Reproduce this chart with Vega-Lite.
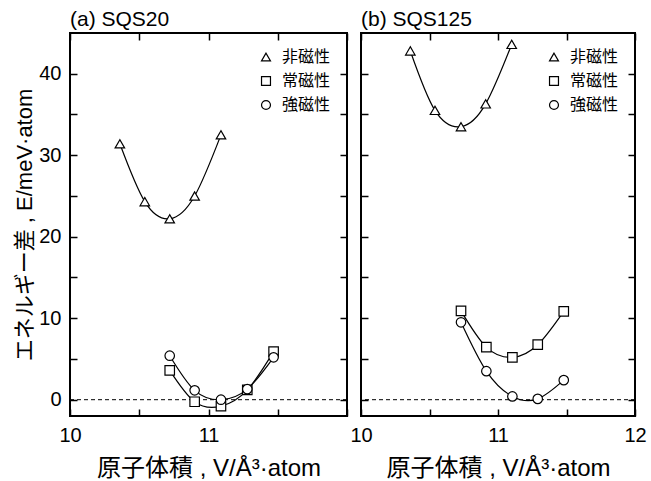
{
  "$schema": "https://vega.github.io/schema/vega-lite/v6.json",
  "padding": {"left": 12, "top": 8, "right": 0, "bottom": 0},
  "background": "white",
  "bounds": "flush",
  "config": {
    "font": "'Liberation Sans', 'Noto Sans CJK JP', sans-serif",
    "view": {"stroke": "black", "strokeWidth": 2},
    "axis": {
      "domain": false, "grid": false,
      "tickColor": "black", "tickSize": -7, "tickWidth": 1.5,
      "labelColor": "black", "labelFontSize": 20, "labelPadding": 16,
      "labelFlush": false, "labelOverlap": false,
      "titleColor": "black", "titleFontWeight": "normal", "titleFontSize": 22
    },
    "legend": {
      "symbolSize": 80, "symbolStrokeWidth": 1.2, "labelFontSize": 16, "labelColor": "black",
      "rowPadding": 8, "padding": 0, "labelOffset": 8
    }
  },
  "datasets": {
    "pts": [
      {"panel": "a", "type": "非磁性", "V": 10.36, "E": 31.4},
      {"panel": "a", "type": "非磁性", "V": 10.54, "E": 24.3},
      {"panel": "a", "type": "非磁性", "V": 10.72, "E": 22.2},
      {"panel": "a", "type": "非磁性", "V": 10.90, "E": 25.0},
      {"panel": "a", "type": "非磁性", "V": 11.09, "E": 32.5},
      {"panel": "a", "type": "常磁性", "V": 10.72, "E": 3.6},
      {"panel": "a", "type": "常磁性", "V": 10.90, "E": -0.25},
      {"panel": "a", "type": "常磁性", "V": 11.09, "E": -0.8},
      {"panel": "a", "type": "常磁性", "V": 11.28, "E": 1.2},
      {"panel": "a", "type": "常磁性", "V": 11.47, "E": 5.9},
      {"panel": "a", "type": "強磁性", "V": 10.72, "E": 5.4},
      {"panel": "a", "type": "強磁性", "V": 10.90, "E": 1.15},
      {"panel": "a", "type": "強磁性", "V": 11.09, "E": 0.0},
      {"panel": "a", "type": "強磁性", "V": 11.28, "E": 1.3},
      {"panel": "a", "type": "強磁性", "V": 11.47, "E": 5.2},
      {"panel": "b", "type": "非磁性", "V": 10.36, "E": 42.8},
      {"panel": "b", "type": "非磁性", "V": 10.54, "E": 35.5},
      {"panel": "b", "type": "非磁性", "V": 10.73, "E": 33.5},
      {"panel": "b", "type": "非磁性", "V": 10.91, "E": 36.3},
      {"panel": "b", "type": "非磁性", "V": 11.10, "E": 43.6},
      {"panel": "b", "type": "常磁性", "V": 10.73, "E": 10.9},
      {"panel": "b", "type": "常磁性", "V": 10.915, "E": 6.45},
      {"panel": "b", "type": "常磁性", "V": 11.105, "E": 5.2},
      {"panel": "b", "type": "常磁性", "V": 11.29, "E": 6.75},
      {"panel": "b", "type": "常磁性", "V": 11.48, "E": 10.85},
      {"panel": "b", "type": "強磁性", "V": 10.73, "E": 9.5},
      {"panel": "b", "type": "強磁性", "V": 10.915, "E": 3.5},
      {"panel": "b", "type": "強磁性", "V": 11.105, "E": 0.4},
      {"panel": "b", "type": "強磁性", "V": 11.29, "E": 0.1},
      {"panel": "b", "type": "強磁性", "V": 11.48, "E": 2.4}
    ],
    "zero": [{"z": 0}]
  },
  "spacing": 14,
  "resolve": {"legend": {"shape": "independent"}},
  "hconcat": [
    {
      "width": 277, "height": 383,
      "title": {"text": "(a) SQS20", "anchor": "start", "frame": "group", "fontSize": 21, "fontWeight": "normal", "offset": 2, "color": "black"},
      "resolve": {"axis": {"x": "independent", "y": "independent"}},
      "layer": [
        {
          "data": {"name": "zero"},
          "mark": {"type": "rule", "strokeDash": [4, 3], "strokeWidth": 1, "color": "black"},
          "encoding": {"y": {"field": "z", "type": "quantitative", "scale": {"domain": [-2, 45], "nice": false, "zero": false}, "axis": null}}
        },
        {
          "data": {"name": "pts"},
          "transform": [{"filter": "datum.panel === 'a'"}],
          "mark": {"type": "line", "interpolate": "natural", "color": "black", "strokeWidth": 1.2},
          "encoding": {
            "x": {"field": "V", "type": "quantitative", "scale": {"domain": [10, 12], "nice": false, "zero": false},
                  "axis": {"orient": "bottom", "values": [10, 10.5, 11, 11.5, 12], "labelExpr": "(datum.value % 1 === 0 && datum.value < 12) ? format(datum.value, 'd') : ''", "title": "原子体積 , V/Å³·atom", "titleFontSize": 24, "titlePadding": 11}},
            "y": {"field": "E", "type": "quantitative", "scale": {"domain": [-2, 45], "nice": false, "zero": false},
                  "axis": {"orient": "left", "values": [0, 5, 10, 15, 20, 25, 30, 35, 40], "labelExpr": "datum.value % 10 === 0 ? format(datum.value, 'd') : ''", "title": "エネルギー差 , E/meV·atom", "titlePadding": 2}},
            "detail": {"field": "type"}
          }
        },
        {
          "data": {"name": "pts"},
          "transform": [{"filter": "datum.panel === 'a'"}],
          "mark": {"type": "point", "filled": false, "color": "black", "fill": "white", "strokeWidth": 1.2, "size": 90, "opacity": 1},
          "encoding": {
            "x": {"field": "V", "type": "quantitative", "axis": {"orient": "top", "values": [10, 10.5, 11, 11.5, 12], "labels": false, "title": null}},
            "y": {"field": "E", "type": "quantitative", "axis": {"orient": "right", "values": [0, 5, 10, 15, 20, 25, 30, 35, 40], "labels": false, "title": null}},
            "shape": {"field": "type", "type": "nominal", "scale": {"domain": ["非磁性", "常磁性", "強磁性"], "range": ["triangle-up", "square", "circle"]},
                      "legend": {"title": null, "orient": "top-right", "offset": 16}}
          }
        }
      ]
    },
    {
      "width": 274, "height": 383,
      "title": {"text": "(b) SQS125", "anchor": "start", "frame": "group", "fontSize": 21, "fontWeight": "normal", "offset": 2, "color": "black"},
      "resolve": {"axis": {"x": "independent", "y": "independent"}},
      "layer": [
        {
          "data": {"name": "zero"},
          "mark": {"type": "rule", "strokeDash": [4, 3], "strokeWidth": 1, "color": "black"},
          "encoding": {"y": {"field": "z", "type": "quantitative", "scale": {"domain": [-2, 45], "nice": false, "zero": false}, "axis": null}}
        },
        {
          "data": {"name": "pts"},
          "transform": [{"filter": "datum.panel === 'b'"}],
          "mark": {"type": "line", "interpolate": "natural", "color": "black", "strokeWidth": 1.2},
          "encoding": {
            "x": {"field": "V", "type": "quantitative", "scale": {"domain": [10, 12], "nice": false, "zero": false},
                  "axis": {"orient": "bottom", "values": [10, 10.5, 11, 11.5, 12], "labelExpr": "datum.value % 1 === 0 ? format(datum.value, 'd') : ''", "title": "原子体積 , V/Å³·atom", "titleFontSize": 24, "titlePadding": 11}},
            "y": {"field": "E", "type": "quantitative", "scale": {"domain": [-2, 45], "nice": false, "zero": false},
                  "axis": {"orient": "left", "values": [0, 5, 10, 15, 20, 25, 30, 35, 40], "labels": false, "title": null}},
            "detail": {"field": "type"}
          }
        },
        {
          "data": {"name": "pts"},
          "transform": [{"filter": "datum.panel === 'b'"}],
          "mark": {"type": "point", "filled": false, "color": "black", "fill": "white", "strokeWidth": 1.2, "size": 90, "opacity": 1},
          "encoding": {
            "x": {"field": "V", "type": "quantitative", "axis": {"orient": "top", "values": [10, 10.5, 11, 11.5, 12], "labels": false, "title": null}},
            "y": {"field": "E", "type": "quantitative", "axis": {"orient": "right", "values": [0, 5, 10, 15, 20, 25, 30, 35, 40], "labels": false, "title": null}},
            "shape": {"field": "type", "type": "nominal", "scale": {"domain": ["非磁性", "常磁性", "強磁性"], "range": ["triangle-up", "square", "circle"]},
                      "legend": {"title": null, "orient": "top-right", "offset": 16}}
          }
        }
      ]
    }
  ]
}
